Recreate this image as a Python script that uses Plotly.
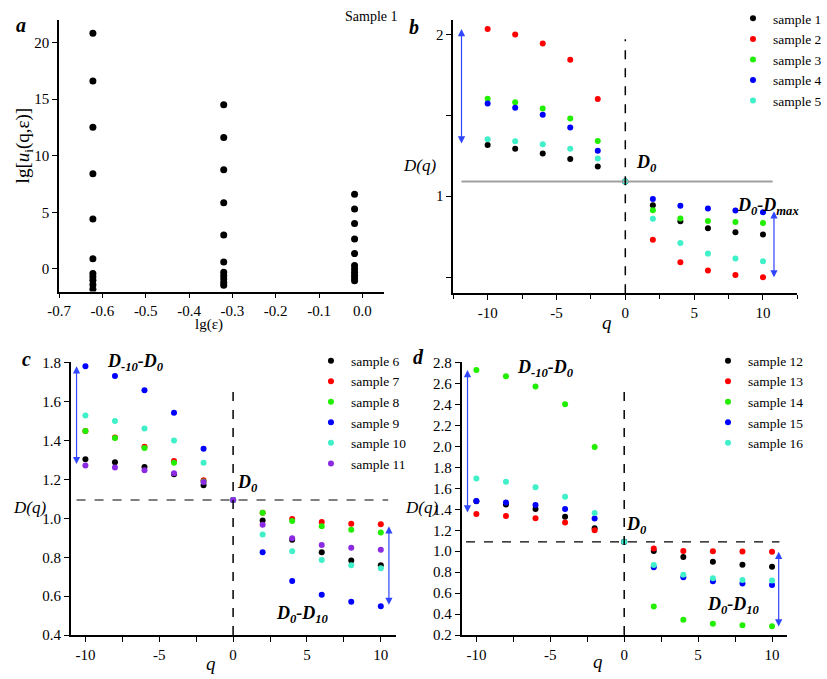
import plotly.graph_objects as go

# ---------------- data ----------------
q = [-10, -8, -6, -4, -2, 0, 2, 4, 6, 8, 10]

# panel a: lg[u_i(q,eps)] at three box sizes (sample 1)
lg_eps = [-0.622, -0.320, -0.018]
mu_eps1 = [20.8, 16.6, 12.5, 8.4, 4.4, 0.9, -0.4, -0.7, -1.0, -1.4, -1.8]
mu_eps2 = [14.5, 11.6, 8.75, 5.85, 3.0, 0.6, -0.3, -0.6, -0.9, -1.2, -1.45]
mu_eps3 = [6.6, 5.3, 4.0, 2.65, 1.35, 0.3, 0.0, -0.3, -0.55, -0.8, -1.05]

# panel b
b_names = ["sample 1", "sample 2", "sample 3", "sample 4", "sample 5"]
s1 = [1.316, 1.292, 1.264, 1.229, 1.183, 1.091, 0.943, 0.844, 0.801, 0.777, 0.763]
s2 = [2.032, 1.998, 1.943, 1.842, 1.600, 1.091, 0.730, 0.592, 0.540, 0.513, 0.499]
s3 = [1.602, 1.580, 1.542, 1.479, 1.341, 1.091, 0.913, 0.862, 0.846, 0.840, 0.834]
s4 = [1.572, 1.546, 1.503, 1.424, 1.280, 1.091, 0.982, 0.941, 0.923, 0.911, 0.901]
s5 = [1.351, 1.339, 1.320, 1.292, 1.233, 1.091, 0.860, 0.710, 0.645, 0.615, 0.598]

# panel c
c_names = ["sample 6", "sample 7", "sample 8", "sample 9", "sample 10", "sample 11"]
s6 = [1.305, 1.289, 1.265, 1.228, 1.171, 1.095, 0.990, 0.890, 0.826, 0.784, 0.759]
s7 = [1.450, 1.416, 1.369, 1.295, 1.196, 1.095, 1.030, 0.997, 0.982, 0.973, 0.970]
s8 = [1.450, 1.414, 1.362, 1.287, 1.190, 1.095, 1.029, 0.987, 0.960, 0.942, 0.928]
s9 = [1.783, 1.733, 1.659, 1.544, 1.359, 1.095, 0.826, 0.678, 0.608, 0.571, 0.548]
s10 = [1.530, 1.502, 1.463, 1.401, 1.287, 1.095, 0.918, 0.831, 0.787, 0.760, 0.744]
s11 = [1.272, 1.262, 1.248, 1.232, 1.188, 1.095, 0.968, 0.898, 0.864, 0.849, 0.839]

# panel d
d_names = ["sample 12", "sample 13", "sample 14", "sample 15", "sample 16"]
s12 = [1.476, 1.445, 1.402, 1.330, 1.218, 1.090, 1.003, 0.944, 0.900, 0.872, 0.851]
s13 = [1.355, 1.336, 1.315, 1.274, 1.199, 1.090, 1.025, 1.003, 1.000, 0.997, 0.994]
s14 = [2.728, 2.669, 2.572, 2.401, 1.993, 1.090, 0.474, 0.346, 0.309, 0.293, 0.284]
s15 = [1.480, 1.464, 1.442, 1.402, 1.311, 1.090, 0.848, 0.751, 0.714, 0.692, 0.679]
s16 = [1.694, 1.663, 1.610, 1.520, 1.364, 1.090, 0.869, 0.776, 0.742, 0.726, 0.720]

a_xticks = [-0.7, -0.6, -0.5, -0.4, -0.3, -0.2, -0.1, 0.0]
a_xticklabels = ["-0.7", "-0.6", "-0.5", "-0.4", "-0.3", "-0.2", "-0.1", "0.0"]
q_ticks = [-10, -5, 0, 5, 10]
q_ticklabels = ["-10", "-5", "0", "5", "10"]
b_yticks = [0.5, 1.0, 1.5, 2.0]
b_yticklabels = ["", "1", "", "2"]
c_yticks = [0.4, 0.6, 0.8, 1.0, 1.2, 1.4, 1.6, 1.8]
d_yticks = [0.2, 0.4, 0.6, 0.8, 1.0, 1.2, 1.4, 1.6, 1.8, 2.0, 2.2, 2.4, 2.6, 2.8]

# ---------------- styling ----------------
W, H = 827, 679
FONT = "Liberation Serif"
BLACK, RED, GREEN, BLUE, CYAN, PURPLE = "#000000", "#ff0000", "#22ee00", "#0000ff", "#3ff0c8", "#8a2be2"
ARROW = "#2f45ff"

fig = go.Figure()

# panel a
for xv, col in zip(lg_eps, [mu_eps1, mu_eps2, mu_eps3]):
    fig.add_trace(go.Scatter(x=[xv] * len(col), y=col, mode="markers",
                             marker=dict(color=BLACK, size=7), showlegend=False,
                             xaxis="x", yaxis="y"))

def add_group(series, names, colors, ax, legend):
    for ys, nm, c in zip(series, names, colors):
        fig.add_trace(go.Scatter(x=q, y=ys, mode="markers", name=nm,
                                 marker=dict(color=c, size=6),
                                 xaxis="x" + ax, yaxis="y" + ax, legend=legend))

add_group([s1, s2, s3, s4, s5], b_names, [BLACK, RED, GREEN, BLUE, CYAN], "2", "legend")
add_group([s6, s7, s8, s9, s10, s11], c_names, [BLACK, RED, GREEN, BLUE, CYAN, PURPLE], "3", "legend2")
add_group([s12, s13, s14, s15, s16], d_names, [BLACK, RED, GREEN, BLUE, CYAN], "4", "legend3")

def px(x):
    return x / W

def py(y):
    return 1 - y / H

axis_common = dict(showline=True, linecolor="black", linewidth=1.5, showgrid=False,
                   zeroline=False, ticks="outside", ticklen=5, tickwidth=1,
                   tickcolor="black", tickfont=dict(family=FONT, size=15, color="black"))

legend_common = dict(xanchor="left", yanchor="top", font=dict(family=FONT, size=13.5),
                     bgcolor="rgba(0,0,0,0)", itemwidth=30)

layout = dict(
    width=W, height=H, margin=dict(l=0, r=0, t=0, b=0),
    paper_bgcolor="white", plot_bgcolor="white",
    font=dict(family=FONT, color="black"),
    xaxis=dict(domain=[px(49), px(387)], range=[-0.7, 0.05], anchor="y",
               tickvals=a_xticks, ticktext=a_xticklabels, **axis_common),
    yaxis=dict(domain=[py(291), py(13)], range=[-2, 22], anchor="x",
               tickvals=[0, 5, 10, 15, 20], ticktext=["0", "5", "10", "15", "20"], **axis_common),
    xaxis2=dict(domain=[px(459), px(817)], range=[-12.5, 12.5], anchor="y2",
                tickvals=q_ticks, ticktext=q_ticklabels,
                minor=dict(dtick=2.5, tick0=0, ticks="outside", ticklen=4, tickcolor="black"),
                **axis_common),
    yaxis2=dict(domain=[py(292.7), py(13)], range=[0.4, 2.09], anchor="x2",
                tickvals=b_yticks, ticktext=b_yticklabels, **axis_common),
    xaxis3=dict(domain=[px(61), px(399)], range=[-11, 11], anchor="y3",
                tickvals=q_ticks, ticktext=q_ticklabels,
                minor=dict(dtick=2.5, tick0=0, ticks="outside", ticklen=5, tickcolor="black"),
                **axis_common),
    yaxis3=dict(domain=[py(642.3), py(363)], range=[0.4, 1.805], anchor="x3",
                tickvals=c_yticks, ticktext=[f"{v:.1f}" for v in c_yticks], **axis_common),
    xaxis4=dict(domain=[px(467.7), px(806)], range=[-11, 11], anchor="y4",
                tickvals=q_ticks, ticktext=q_ticklabels,
                minor=dict(dtick=2.5, tick0=0, ticks="outside", ticklen=5, tickcolor="black"),
                **axis_common),
    yaxis4=dict(domain=[py(642.3), py(363)], range=[0.2, 2.805], anchor="x4",
                tickvals=d_yticks, ticktext=[f"{v:.1f}" for v in d_yticks], **axis_common),
    legend=dict(x=px(750), y=py(-4), **legend_common),
    legend2=dict(x=px(311), y=py(346), **legend_common),
    legend3=dict(x=px(724), y=py(346), **legend_common),
)
fig.update_layout(**layout)

shapes = []
# panel b reference lines
shapes.append(dict(type="line", xref="x2", yref="y2", x0=-11.9, x1=10.7, y0=s1[5], y1=s1[5],
                   line=dict(color="#a0a0a0", width=2)))
shapes.append(dict(type="line", xref="x2", yref="y2", x0=0, x1=0, y0=0.4, y1=1.97,
                   line=dict(color="black", width=1.5, dash="dash")))
# panel c
shapes.append(dict(type="line", xref="x3", yref="y3", x0=-10.6, x1=10.5, y0=s6[5], y1=s6[5],
                   line=dict(color="black", width=1.2, dash="dash")))
shapes.append(dict(type="line", xref="x3", yref="y3", x0=0, x1=0, y0=0.4, y1=1.69,
                   line=dict(color="black", width=1.5, dash="dash")))
# panel d
shapes.append(dict(type="line", xref="x4", yref="y4", x0=-10.7, x1=10.5, y0=s12[5], y1=s12[5],
                   line=dict(color="black", width=1.2, dash="dash")))
shapes.append(dict(type="line", xref="x4", yref="y4", x0=0, x1=0, y0=0.2, y1=2.59,
                   line=dict(color="black", width=1.5, dash="dash")))
fig.update_layout(shapes=shapes)

ann = []

def darrow(ax_id, xq, ytop, ybot):
    ann.append(dict(xref="x" + ax_id, yref="y" + ax_id, axref="x" + ax_id, ayref="y" + ax_id,
                    x=xq, y=ytop, ax=xq, ay=ybot, text="", showarrow=True,
                    arrowhead=2, arrowsize=1.2, arrowwidth=1.2, arrowcolor=ARROW,
                    arrowside="end+start", standoff=0, startstandoff=0))

darrow("2", -11.9, s2[0], s1[0])
darrow("2", 10.8, s4[-1] + 0.005, s2[-1] - 0.01)
darrow("3", -10.6, s9[0], s11[0])
darrow("3", 10.55, s7[-1] - 0.01, s9[-1])
darrow("4", -10.6, s14[0], s13[0])
darrow("4", 10.45, s13[-1], s14[-1] - 0.015)

def txt(x, y, text, size, xref="paper", yref="paper", **kw):
    d = dict(x=x, y=y, xref=xref, yref=yref, text=text, showarrow=False,
             font=dict(family=FONT, size=size, color="black"), xanchor="center", yanchor="middle")
    d.update(kw)
    ann.append(d)

# panel letters
txt(px(9), py(18), "<b><i>a</i></b>", 20)
txt(px(418), py(20), "<b><i>b</i></b>", 20)
txt(px(15), py(360), "<b><i>c</i></b>", 20)
txt(px(423), py(358), "<b><i>d</i></b>", 20)

# panel a texts
txt(px(374), py(10), "Sample 1", 14)
txt(px(12), py(142), "lg[<i>u</i><sub>i</sub>(q,ε)]", 19, textangle=-90)
txt(px(205), py(325), "lg(ε)", 15)

# axis titles for D(q) and q
txt(px(424), py(162), "<i>D(q)</i>", 17)
txt(px(18), py(512), "<i>D(q)</i>", 17)
txt(px(426), py(512), "<i>D(q)</i>", 17)
txt(px(619), py(323), "<i>q</i>", 19)
txt(px(207), py(671), "<i>q</i>", 19)
txt(px(610), py(669), "<i>q</i>", 19)

# D annotations
txt(-8.5, 2.10, "<b><i>D<sub>min</sub>-D<sub>0</sub></i></b>", 18, "x2", "y2")
txt(1.55, 1.20, "<b><i>D<sub>0</sub></i></b>", 18, "x2", "y2")
txt(10.35, 0.937, "<b><i>D<sub>0</sub>-D<sub>max</sub></i></b>", 18, "x2", "y2")
txt(-6.63, 1.80, "<b><i>D<sub>-10</sub>-D<sub>0</sub></i></b>", 18, "x3", "y3")
txt(0.98, 1.181, "<b><i>D<sub>0</sub></i></b>", 18, "x3", "y3")
txt(4.68, 0.507, "<b><i>D<sub>0</sub>-D<sub>10</sub></i></b>", 18, "x3", "y3")
txt(-5.3, 2.744, "<b><i>D<sub>-10</sub>-D<sub>0</sub></i></b>", 18, "x4", "y4")
txt(0.86, 1.249, "<b><i>D<sub>0</sub></i></b>", 18, "x4", "y4")
txt(7.36, 0.483, "<b><i>D<sub>0</sub>-D<sub>10</sub></i></b>", 18, "x4", "y4")

fig.update_layout(annotations=ann)
fig.write_html("out.html")
